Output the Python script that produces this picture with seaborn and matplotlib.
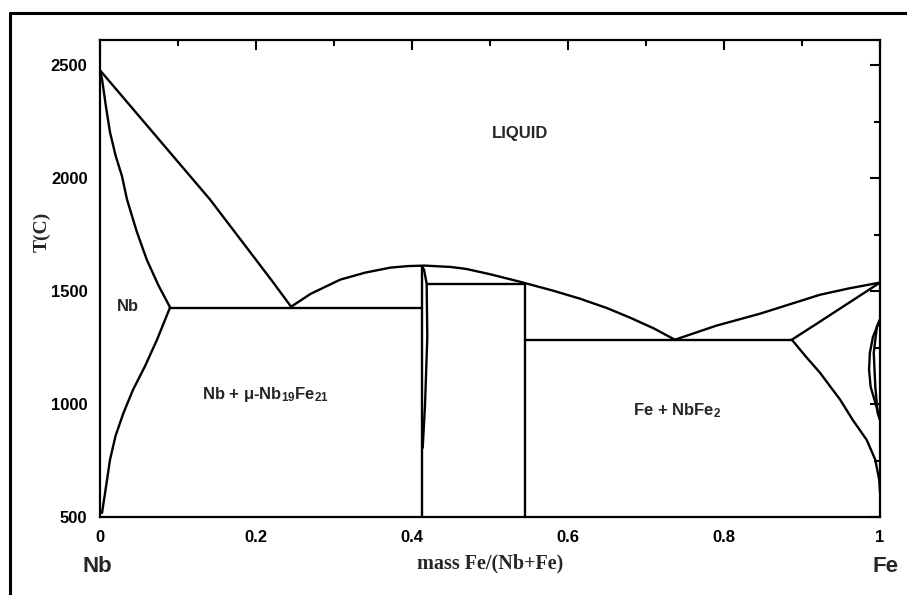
import numpy as np
import pandas as pd
import matplotlib
matplotlib.use("Agg")
import matplotlib.pyplot as plt
import seaborn as sns
from matplotlib.lines import Line2D
from matplotlib.ticker import MultipleLocator

# ---------------- data ----------------
liq_nb_x = [0.0, 0.035, 0.07, 0.105, 0.141, 0.19, 0.22, 0.245]
liq_nb_T = [2478, 2336, 2194, 2052, 1906, 1684, 1548, 1431]

sol_nb_x = [0.0, 0.0026, 0.0075, 0.0128, 0.020, 0.0282, 0.0346, 0.047, 0.060, 0.075, 0.090]
sol_nb_T = [2478, 2439, 2320, 2204, 2100, 2009, 1906, 1765, 1639, 1525, 1427]

solv_nb_x = [0.0897, 0.0731, 0.058, 0.0423, 0.030, 0.020, 0.0128, 0.009, 0.0026]
solv_nb_T = [1427, 1285, 1170, 1063, 960, 860, 753, 664, 518]

eut1_x = [0.09, 0.4124]
eut1_T = [1427, 1427]

liq_mid_x = [0.245, 0.27, 0.308, 0.34, 0.372, 0.395, 0.417, 0.45, 0.47, 0.50,
             0.538, 0.58, 0.615, 0.65, 0.68, 0.71, 0.737]
liq_mid_T = [1431, 1488, 1551, 1582, 1604, 1611, 1613, 1607, 1598, 1575,
             1542, 1503, 1467, 1425, 1382, 1335, 1285]

liq_fe_x = [0.737, 0.79, 0.846, 0.923, 0.96, 1.0]
liq_fe_T = [1285, 1347, 1400, 1484, 1512, 1538]

eut2_x = [0.545, 0.887]
eut2_T = [1285, 1285]

delta_x = [0.887, 0.923, 1.0]
delta_T = [1285, 1365, 1538]

gam_solv_x = [0.887, 0.905, 0.923, 0.949, 0.965, 0.983, 0.994, 0.999, 1.0]
gam_solv_T = [1285, 1210, 1139, 1019, 930, 841, 753, 664, 610]

loop_out_x = [1.0, 0.991, 0.987, 0.986, 0.988, 0.994, 1.0]
loop_out_T = [1374, 1298, 1227, 1152, 1076, 1006, 930]

loop_in_x = [1.0, 0.996, 0.992, 0.994, 0.997, 1.0]
loop_in_T = [1374, 1343, 1227, 1076, 961, 930]

mu_left_x = [0.4124, 0.4124]
mu_left_T = [1612, 500]

mu_right_x = [0.4124, 0.4154, 0.4188, 0.4196, 0.4167, 0.4137]
mu_right_T = [1612, 1595, 1533, 1294, 997, 806]

perit_x = [0.4188, 0.545]
perit_T = [1533, 1533]

laves_x = [0.545, 0.545]
laves_T = [1533, 500]

label_text = ["LIQUID", "Nb", r"Nb + μ-Nb$_{19}$Fe$_{21}$", r"Fe + NbFe$_2$"]
label_x = [0.538, 0.036, 0.212, 0.740]
label_T = [2198, 1431, 1041, 970]

x_ticks = [0, 0.2, 0.4, 0.6, 0.8, 1]
x_ticklabels = ["0", "0.2", "0.4", "0.6", "0.8", "1"]
y_ticks = [500, 1000, 1500, 2000, 2500]

curves = {
    "liq_nb": (liq_nb_x, liq_nb_T),
    "sol_nb": (sol_nb_x, sol_nb_T),
    "solv_nb": (solv_nb_x, solv_nb_T),
    "eut1": (eut1_x, eut1_T),
    "liq_mid": (liq_mid_x, liq_mid_T),
    "liq_fe": (liq_fe_x, liq_fe_T),
    "eut2": (eut2_x, eut2_T),
    "delta": (delta_x, delta_T),
    "gam_solv": (gam_solv_x, gam_solv_T),
    "loop_out": (loop_out_x, loop_out_T),
    "loop_in": (loop_in_x, loop_in_T),
    "mu_left": (mu_left_x, mu_left_T),
    "mu_right": (mu_right_x, mu_right_T),
    "perit": (perit_x, perit_T),
    "laves": (laves_x, laves_T),
}
rows = []
for name, (xs, ts) in curves.items():
    for i, (xv, tv) in enumerate(zip(xs, ts)):
        rows.append({"curve": name, "order": i, "x": xv, "T": tv})
df = pd.DataFrame(rows)

# ---------------- figure ----------------
sns.set_style("white")
plt.rcParams["font.family"] = ["Liberation Sans", "DejaVu Sans"]
plt.rcParams["mathtext.fontset"] = "custom"
plt.rcParams["mathtext.rm"] = "Liberation Sans:bold"
plt.rcParams["mathtext.it"] = "Liberation Sans:bold"
plt.rcParams["mathtext.bf"] = "Liberation Sans:bold"

W, H = 907, 595
fig = plt.figure(figsize=(W / 100, H / 100), dpi=100)
ax = fig.add_axes([100 / W, 1 - 517 / H, 780 / W, 477 / H])

sns.lineplot(data=df, x="x", y="T", units="curve", estimator=None, sort=False,
             color="black", linewidth=1.7, ax=ax, legend=False)

ax.set_xlim(0, 1)
ax.set_ylim(500, 2612)
ax.set_xticks(x_ticks)
ax.set_xticklabels(x_ticklabels)
ax.set_yticks(y_ticks)
ax.xaxis.set_minor_locator(MultipleLocator(0.1))
ax.yaxis.set_minor_locator(MultipleLocator(250))
ax.tick_params(which="both", direction="in", top=True, right=True,
               colors="black", width=1.5)
ax.tick_params(which="major", length=7, pad=9, labelsize=12)
ax.tick_params(which="minor", length=4)
for lab in ax.get_xticklabels() + ax.get_yticklabels():
    lab.set_fontweight("bold")
for sp in ax.spines.values():
    sp.set_color("black")
    sp.set_linewidth(1.6)
ax.set_xlabel("")
ax.set_ylabel("")
ax.grid(False)

for t, xv, tv in zip(label_text, label_x, label_T):
    ax.text(xv, tv, t, ha="center", va="center", fontsize=12, fontweight="bold")

fig.text(42 / W, 1 - 232 / H, "T(C)", rotation=90, ha="center", va="center",
         fontsize=14, fontweight="bold", family=["Liberation Serif", "DejaVu Serif"])
fig.text(490 / W, 1 - 563 / H, "mass Fe/(Nb+Fe)", ha="center", va="center",
         fontsize=14.5, fontweight="bold", family=["Liberation Serif", "DejaVu Serif"])
fig.text(97 / W, 1 - 567 / H, "Nb", ha="center", va="center",
         fontsize=16, fontweight="bold")
fig.text(886 / W, 1 - 567 / H, "Fe", ha="center", va="center",
         fontsize=16, fontweight="bold")

# outer frame (cropped on right and bottom)
fig.add_artist(Line2D([10 / W, 1.0], [1 - 13 / H, 1 - 13 / H], color="black",
                      linewidth=2.2, transform=fig.transFigure))
fig.add_artist(Line2D([10 / W, 10 / W], [1 - 13 / H, 0.0], color="black",
                      linewidth=2.2, transform=fig.transFigure))

fig.savefig("out.png", dpi=100)
